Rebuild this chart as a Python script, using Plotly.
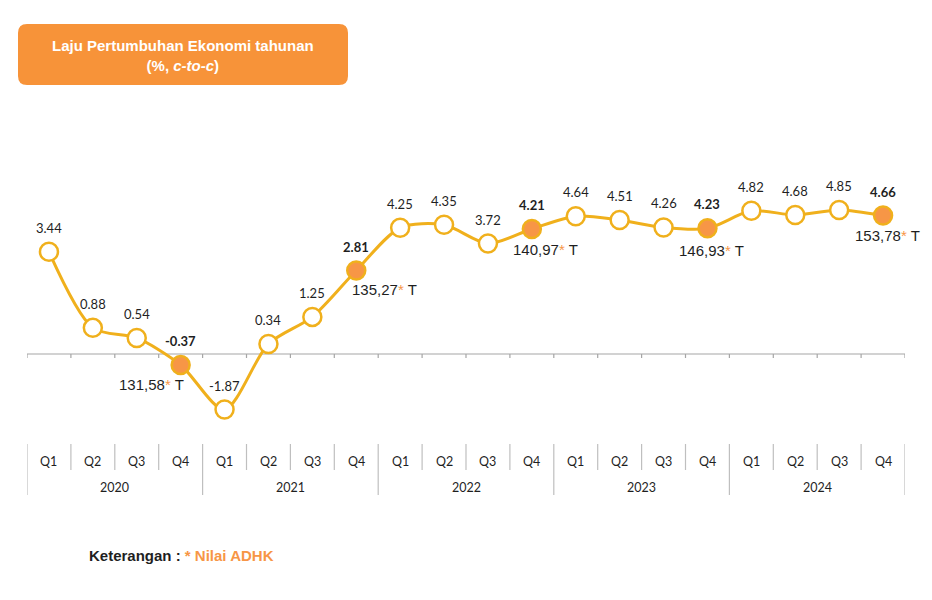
import plotly.graph_objects as go

# ---- data ----
quarters = ["Q1", "Q2", "Q3", "Q4"] * 5
years = ["2020", "2021", "2022", "2023", "2024"]
growth = [3.44, 0.88, 0.54, -0.37, -1.87, 0.34, 1.25, 2.81,
          4.25, 4.35, 3.72, 4.21, 4.64, 4.51, 4.26, 4.23,
          4.82, 4.68, 4.85, 4.66]
growth_labels = ["3.44", "0.88", "0.54", "-0.37", "-1.87", "0.34", "1.25", "2.81",
                 "4.25", "4.35", "3.72", "4.21", "4.64", "4.51", "4.26", "4.23",
                 "4.82", "4.68", "4.85", "4.66"]
adhk_idx = [3, 7, 11, 15, 19]
adhk_values = ["131,58", "135,27", "140,97", "146,93", "153,78"]

W, H = 932, 600
GOLD = "#F0B01C"
ORANGE = "#F79646"
TXT = "#1F1F1F"
GRID = "#A6A6A6"

def px(x):
    return x / W

def py(y):
    return 1 - y / H

# y mapping: value 0 at pixel 354, 29.7 px per unit
ppu = 29.7
y_top = 354 / ppu
y_bot = -(H - 354) / ppu

n = len(growth)
xs = list(range(n))

fig = go.Figure()

fig.add_trace(go.Scatter(
    x=xs, y=growth, mode="lines",
    line=dict(color=GOLD, width=3, shape="spline", smoothing=0.8),
    hoverinfo="skip", showlegend=False))

fill_colors = [ORANGE if i in adhk_idx else "white" for i in xs]
fig.add_trace(go.Scatter(
    x=xs, y=growth, mode="markers",
    marker=dict(size=18, color=fill_colors, line=dict(color=GOLD, width=2.5)),
    hoverinfo="skip", showlegend=False))

annotations = []
# value labels
for i in xs:
    bold = i in adhk_idx
    txt = f"<b>{growth_labels[i]}</b>" if bold else growth_labels[i]
    annotations.append(dict(x=i, y=growth[i], xref="x", yref="y", text=txt,
                            showarrow=False, yshift=24,
                            font=dict(family="Lato, Carlito, sans-serif", size=13, color=TXT)))

# ADHK labels
adhk_shift = [(-29, -20), (28, -19), (14, -21), (4, -22), (4, -20)]
for k, i in enumerate(adhk_idx):
    annotations.append(dict(x=i, y=growth[i], xref="x", yref="y",
                            text=f"{adhk_values[k]}<span style='color:{ORANGE}'>*</span> T",
                            showarrow=False, xshift=adhk_shift[k][0], yshift=adhk_shift[k][1],
                            font=dict(family="Liberation Sans, Arial, sans-serif", size=15, color=TXT)))

# category axis labels
for i in xs:
    annotations.append(dict(x=i, y=py(461), xref="x", yref="paper", text=quarters[i],
                            showarrow=False, yanchor="middle", xanchor="center",
                            font=dict(family="Lato, Carlito, sans-serif", size=12.5, color=TXT)))
for k, yr in enumerate(years):
    annotations.append(dict(x=4 * k + 1.5, y=py(487), xref="x", yref="paper", text=yr,
                            showarrow=False, yanchor="middle", xanchor="center",
                            font=dict(family="Lato, Carlito, sans-serif", size=12.5, color=TXT)))

# title
annotations.append(dict(x=px(183), y=py(55), xref="paper", yref="paper",
                        text="<b>Laju Pertumbuhan Ekonomi tahunan</b><br><b>(%, <i>c-to-c</i>)</b>",
                        showarrow=False, yanchor="middle", xanchor="center", align="center",
                        font=dict(family="Liberation Sans, Arial, sans-serif", size=15, color="white")))

# note
annotations.append(dict(x=px(87), y=py(555), xref="paper", yref="paper", xanchor="left",
                        text=f"<b>Keterangan : </b><b><span style='color:{ORANGE}'>* Nilai ADHK</span></b>",
                        showarrow=False, yanchor="middle",
                        font=dict(family="Liberation Sans, Arial, sans-serif", size=15, color=TXT)))

shapes = []
# rounded title box
x0, x1, y0, y1, r = 18, 348, 24, 85, 9
path = (f"M {px(x0 + r)},{py(y0)} L {px(x1 - r)},{py(y0)} Q {px(x1)},{py(y0)} {px(x1)},{py(y0 + r)} "
        f"L {px(x1)},{py(y1 - r)} Q {px(x1)},{py(y1)} {px(x1 - r)},{py(y1)} "
        f"L {px(x0 + r)},{py(y1)} Q {px(x0)},{py(y1)} {px(x0)},{py(y1 - r)} "
        f"L {px(x0)},{py(y0 + r)} Q {px(x0)},{py(y0)} {px(x0 + r)},{py(y0)} Z")
shapes.append(dict(type="path", path=path, xref="paper", yref="paper",
                   fillcolor="#F79339", line=dict(width=0), layer="below"))

# zero axis line + ticks
shapes.append(dict(type="line", xref="x", yref="y", x0=-0.5, x1=n - 0.5, y0=0, y1=0,
                   line=dict(color=GRID, width=1.2), layer="below"))
for b in range(n + 1):
    shapes.append(dict(type="line", xref="x", yref="paper", x0=b - 0.5, x1=b - 0.5,
                       y0=py(354), y1=py(358), line=dict(color=GRID, width=1.2), layer="below"))
    bottom = 495 if b % 4 == 0 else 470
    shapes.append(dict(type="line", xref="x", yref="paper", x0=b - 0.5, x1=b - 0.5,
                       y0=py(444), y1=py(bottom), line=dict(color="#BFBFBF", width=1.2), layer="below"))

fig.update_layout(
    width=W, height=H,
    margin=dict(l=0, r=0, t=0, b=0),
    paper_bgcolor="white", plot_bgcolor="white",
    xaxis=dict(domain=[px(27), px(905)], range=[-0.5, n - 0.5], visible=False, fixedrange=True),
    yaxis=dict(domain=[0, 1], range=[y_bot, y_top], visible=False, fixedrange=True),
    annotations=annotations, shapes=shapes, showlegend=False,
)

fig.write_html("out.html", config={"displayModeBar": False},
               post_script="document.body.style.margin='0px';document.body.style.overflow='hidden';")
